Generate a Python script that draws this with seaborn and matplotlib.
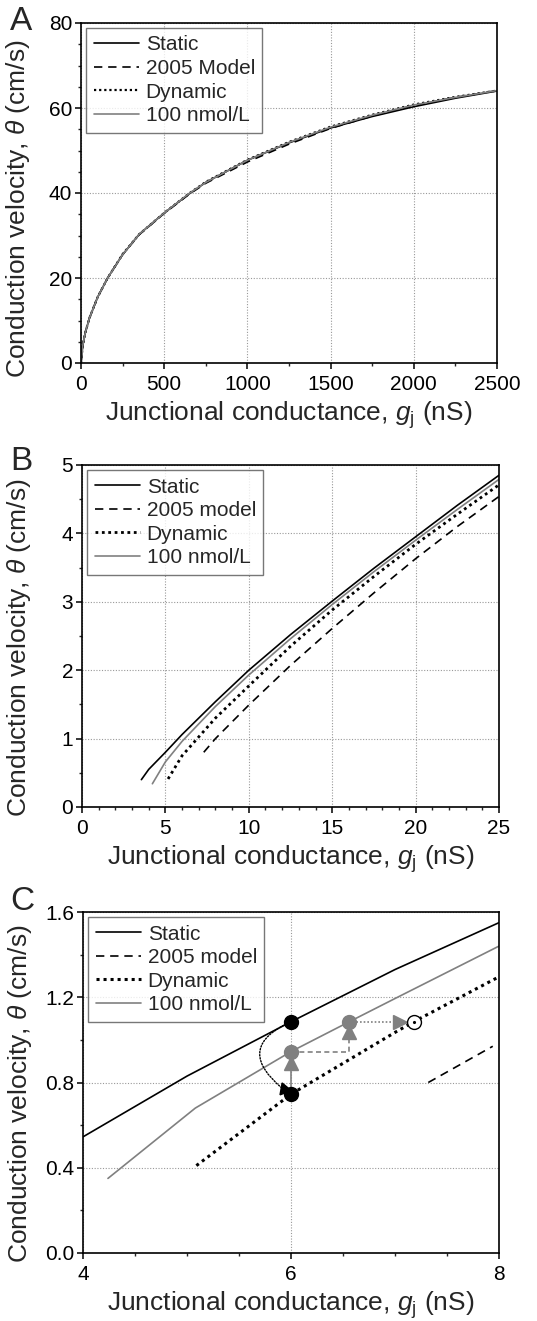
import numpy as np
import pandas as pd
import matplotlib
matplotlib.use("Agg")
import matplotlib.pyplot as plt
from matplotlib.ticker import MultipleLocator
import seaborn as sns

# ---------------- data ----------------
# Panel A
gA = [0, 10, 25, 50, 100, 160, 250, 350, 500, 650, 750, 1000, 1250, 1500, 1750, 2000, 2250, 2500]
A_static = [0, 4.0, 7.0, 10.5, 15.5, 20.0, 25.5, 30.3, 35.3, 39.8, 42.5, 47.7, 51.8, 55.3, 58.0, 60.3, 62.3, 64.0]
A_model2005 = [0, 4.0, 7.0, 10.5, 15.5, 20.0, 25.5, 30.2, 35.2, 39.7, 42.3, 47.3, 51.5, 55.2, 58.1, 60.6, 62.5, 64.1]
A_dynamic = [0, 4.0, 7.0, 10.5, 15.5, 20.0, 25.6, 30.3, 35.3, 39.9, 42.6, 47.8, 52.0, 55.6, 58.4, 60.8, 62.6, 64.1]
A_nmol100 = [0, 4.0, 7.0, 10.5, 15.5, 20.0, 25.5, 30.3, 35.3, 39.9, 42.5, 47.7, 51.9, 55.5, 58.3, 60.7, 62.5, 64.1]

# Panel B
B_static_x = [3.56, 4, 5, 6, 8, 10, 12.5, 15, 17.5, 20, 22.5, 25]
B_static_y = [0.40, 0.55, 0.80, 1.06, 1.54, 2.00, 2.52, 3.01, 3.49, 3.95, 4.41, 4.85]
B_nmol_x = [4.22, 5, 6, 8, 10, 12.5, 15, 17.5, 20, 22.5, 25]
B_nmol_y = [0.34, 0.66, 0.96, 1.47, 1.93, 2.46, 2.96, 3.44, 3.90, 4.35, 4.79]
B_dyn_x = [5.16, 6, 8, 10, 12.5, 15, 17.5, 20, 22.5, 25]
B_dyn_y = [0.41, 0.75, 1.30, 1.77, 2.35, 2.88, 3.37, 3.84, 4.28, 4.71]
B_2005_x = [7.3, 8, 10, 12.5, 15, 17.5, 20, 22.5, 25]
B_2005_y = [0.80, 1.00, 1.49, 2.07, 2.61, 3.13, 3.63, 4.10, 4.54]

# Panel C
C_static_x = [4.0, 5, 6, 7, 8]
C_static_y = [0.545, 0.83, 1.085, 1.33, 1.55]
C_nmol_x = [4.24, 5.08, 6, 6.56, 7, 8]
C_nmol_y = [0.35, 0.68, 0.945, 1.085, 1.194, 1.44]
C_dyn_x = [5.09, 6, 7.0, 7.18, 8]
C_dyn_y = [0.41, 0.745, 1.035, 1.085, 1.296]
C_2005_x = [7.32, 7.94]
C_2005_y = [0.80, 0.97]

# Panel C state-transition markers
black_pts_x = [6.0, 6.0]
black_pts_y = [1.085, 0.745]
gray_pts_x = [6.0, 6.56]
gray_pts_y = [0.945, 1.085]
open_pt_x = [7.18]
open_pt_y = [1.085]

labels_A = ["Static", "2005 Model", "Dynamic", "100 nmol/L"]
labels_BC = ["Static", "2005 model", "Dynamic", "100 nmol/L"]

# ---------------- style ----------------
sns.set_style("ticks")
plt.rcParams["font.family"] = ["Liberation Sans", "DejaVu Sans"]
plt.rcParams["mathtext.fontset"] = "custom"
plt.rcParams["mathtext.rm"] = "Liberation Sans"
plt.rcParams["mathtext.it"] = "Liberation Sans:italic"
plt.rcParams["xtick.direction"] = "out"
plt.rcParams["ytick.direction"] = "out"

GRAY = "#808080"
fig = plt.figure(figsize=(5.37, 13.21), dpi=100)

W, H = 537.0, 1321.0
def add_axes(l, r, t, b):
    return fig.add_axes([l / W, 1 - b / H, (r - l) / W, (b - t) / H])

axA = add_axes(81, 497, 23, 363)
axB = add_axes(82, 499, 465, 807)
axC = add_axes(83, 499, 912, 1253)

dot_style = (0, (1, 1.3))
dash_style = (0, (5, 3.5))

def draw(ax, s, m, d, n, labels, dotlw):
    sns.lineplot(x=s[0], y=s[1], ax=ax, color="black", lw=1.2, label=labels[0], sort=False)
    sns.lineplot(x=m[0], y=m[1], ax=ax, color="black", lw=1.2, linestyle=dash_style, label=labels[1], sort=False)
    sns.lineplot(x=d[0], y=d[1], ax=ax, color="black", lw=dotlw, linestyle=dot_style, label=labels[2], sort=False)
    sns.lineplot(x=n[0], y=n[1], ax=ax, color=GRAY, lw=1.2, label=labels[3], sort=False)

draw(axA, (gA, A_static), (gA, A_model2005), (gA, A_dynamic), (gA, A_nmol100), labels_A, 1.6)
draw(axB, (B_static_x, B_static_y), (B_2005_x, B_2005_y), (B_dyn_x, B_dyn_y), (B_nmol_x, B_nmol_y), labels_BC, 2.0)
draw(axC, (C_static_x, C_static_y), (C_2005_x, C_2005_y), (C_dyn_x, C_dyn_y), (C_nmol_x, C_nmol_y), labels_BC, 2.2)

# ---------------- panel C annotations ----------------
MS = 10
# dotted arc from top black circle to lower black circle
axC.annotate("", xy=(5.91, 0.775), xytext=(black_pts_x[0], black_pts_y[0]),
             arrowprops=dict(arrowstyle="-", color="black", lw=1.0, linestyle=(0, (1, 1.2)),
                             connectionstyle="arc3,rad=0.8", shrinkA=6, shrinkB=0))
axC.plot([5.93], [0.768], marker=(3, 0, -100), color="black", ms=MS, zorder=6)
# gray solid vertical
axC.plot([6.0, 6.0], [black_pts_y[1], gray_pts_y[0]], color=GRAY, lw=1.2, zorder=4)
axC.plot([6.0], [0.893], marker="^", color=GRAY, ms=MS, zorder=6)
# gray dashed path
axC.plot([6.0, 6.56, 6.56], [0.945, 0.945, 1.085], color=GRAY, lw=1.2, linestyle=(0, (3, 2)), zorder=4)
axC.plot([6.56], [1.035], marker="^", color=GRAY, ms=MS, zorder=6)
# gray dotted horizontal
axC.plot([6.56, 7.18], [1.085, 1.085], color=GRAY, lw=1.2, linestyle=(0, (1, 1.2)), zorder=4)
axC.plot([7.05], [1.085], marker=">", color=GRAY, ms=MS, zorder=6)
# circles
axC.plot(black_pts_x, black_pts_y, "o", color="black", ms=MS, zorder=7, linestyle="none")
axC.plot(gray_pts_x, gray_pts_y, "o", color=GRAY, ms=MS, zorder=7, linestyle="none")
axC.plot(open_pt_x, open_pt_y, "o", mfc="white", mec="black", mew=1.0, ms=MS, zorder=7, linestyle="none")
axC.plot(open_pt_x, open_pt_y, ".", color="black", ms=2.5, zorder=8, linestyle="none")

# ---------------- axes formatting ----------------
xlabel = r"Junctional conductance, $g_\mathrm{j}$ (nS)"
ylabel = r"Conduction velocity, $\theta$ (cm/s)"

specs = [
    (axA, (0, 2500), (0, 80), 500, 250, 20, 5, "{:.0f}", "{:.0f}", 0.455),
    (axB, (0, 25), (0, 5), 5, 1, 1, 0.5, "{:.0f}", "{:.0f}", 0.467),
    (axC, (4, 8), (0, 1.6), 2, 0.5, 0.4, 0.2, "{:.0f}", "{:.1f}", 0.467),
]
for ax, xl, yl, xmaj, xmin, ymaj, ymin, xf, yf, ylab_y in specs:
    ax.set_xlim(*xl)
    ax.set_ylim(*yl)
    ax.xaxis.set_major_locator(MultipleLocator(xmaj))
    ax.xaxis.set_minor_locator(MultipleLocator(xmin))
    ax.yaxis.set_major_locator(MultipleLocator(ymaj))
    ax.yaxis.set_minor_locator(MultipleLocator(ymin))
    ax.xaxis.set_major_formatter(matplotlib.ticker.FuncFormatter(lambda v, p, f=xf: f.format(v)))
    ax.yaxis.set_major_formatter(matplotlib.ticker.FuncFormatter(lambda v, p, f=yf: f.format(v)))
    ax.grid(True, which="major", color="#999999", linestyle=(0, (1, 1.5)), lw=0.8)
    ax.set_axisbelow(True)
    for sp in ax.spines.values():
        sp.set_visible(True)
        sp.set_linewidth(1.2)
        sp.set_color("black")
    ax.tick_params(which="major", length=4.3, width=1.1, labelsize=15, colors="black")
    ax.tick_params(axis="x", which="major", pad=4)
    ax.tick_params(axis="y", which="major", pad=2)
    ax.tick_params(which="minor", length=2.5, width=1.0)
    ax.set_xlabel(xlabel, fontsize=19, labelpad=4)
    ax.set_ylabel(ylabel, fontsize=19)
    ax.yaxis.set_label_coords(-0.117, ylab_y)
    leg = ax.legend(loc="upper left", fontsize=15, frameon=True, fancybox=False,
                    handlelength=2.2, handletextpad=0.3, labelspacing=0.22,
                    borderpad=0.35, borderaxespad=0.25)
    leg.get_frame().set_edgecolor("#555555")
    leg.get_frame().set_linewidth(1.0)

fig.text(10 / W, 1 - 6 / H, "A", fontsize=24, va="top", ha="left")
fig.text(10 / W, 1 - 446 / H, "B", fontsize=24, va="top", ha="left")
fig.text(10 / W, 1 - 886 / H, "C", fontsize=24, va="top", ha="left")

fig.savefig("out.png", dpi=100)
